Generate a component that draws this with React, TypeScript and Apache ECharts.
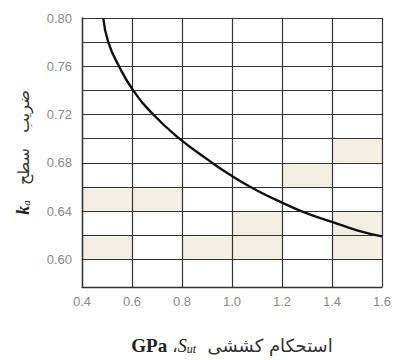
import React, { useEffect, useRef } from "react";
import * as echarts from "echarts";

const xMin = 0.4;
const xMax = 1.6;
const xStep = 0.2;
const yMin = 0.577;
const yMax = 0.8;
const yGridValues = [0.6, 0.62, 0.64, 0.66, 0.68, 0.7, 0.72, 0.74, 0.76, 0.78, 0.8];
const yLabelValues = [0.6, 0.64, 0.68, 0.72, 0.76, 0.8];

const curveX = [0.485, 0.505, 0.548, 0.605, 0.685, 0.79, 0.9, 1.0, 1.1, 1.2, 1.3, 1.4, 1.5, 1.6];
const curveY = [0.8, 0.78, 0.76, 0.74, 0.72, 0.7, 0.683, 0.669, 0.657, 0.647, 0.638, 0.631, 0.624, 0.619];

// shaded cells: [x0, x1, y0, y1]
const shadedCells = [
  [1.4, 1.6, 0.68, 0.7],
  [1.2, 1.4, 0.66, 0.68],
  [0.4, 0.8, 0.64, 0.66],
  [1.0, 1.2, 0.62, 0.64],
  [1.4, 1.6, 0.62, 0.64],
  [0.4, 0.6, 0.6, 0.62],
  [0.8, 1.2, 0.6, 0.62],
  [1.4, 1.6, 0.6, 0.62],
];

export default function App() {
  const ref = useRef<HTMLDivElement>(null);
  useEffect(() => {
    if (!ref.current) return;
    const chart = echarts.init(ref.current, null, { renderer: "svg" });
    const gridColor = "#333333";
    chart.setOption({
      animation: false,
      backgroundColor: "#ffffff",
      grid: { left: 82, right: 13, top: 18, bottom: 63, containLabel: false },
      xAxis: {
        type: "value",
        min: xMin,
        max: xMax,
        interval: xStep,
        z: 3,
        axisLine: { show: true, lineStyle: { color: gridColor, width: 1.4 } },
        axisTick: { show: false },
        splitLine: { show: true, lineStyle: { color: gridColor, width: 1.2 } },
        axisLabel: {
          color: "#8a8a8a",
          fontSize: 13,
          fontFamily: "Liberation Sans",
          margin: 8,
          formatter: (v: number) => v.toFixed(1),
        },
        name: "{en|GPa }{fa|،}{it|S}{sub|ut}{fa|  استحکام کششی}",
        nameLocation: "middle",
        nameGap: 49,
        nameTextStyle: {
          rich: {
            en: { fontFamily: "Liberation Serif", fontWeight: "bold", fontSize: 19, color: "#222" },
            it: { fontFamily: "Liberation Serif", fontStyle: "italic", fontSize: 18, color: "#222" },
            sub: { fontFamily: "Liberation Serif", fontStyle: "italic", fontSize: 12, color: "#222", padding: [6, 0, 0, 0] },
            fa: { fontFamily: "DejaVu Sans", fontSize: 18, color: "#333" },
          },
        },
      },
      yAxis: {
        type: "value",
        min: yMin,
        max: yMax,
        z: 3,
        axisLine: { show: true, lineStyle: { color: gridColor, width: 1.4 } },
        axisTick: { show: false, customValues: yGridValues },
        splitLine: { show: true, lineStyle: { color: gridColor, width: 1.2 } },
        axisLabel: {
          customValues: yLabelValues,
          color: "#8a8a8a",
          fontSize: 13,
          fontFamily: "Liberation Sans",
          margin: 10,
          formatter: (v: number) => v.toFixed(2),
        },
        name: "{it|k}{sub|a}{fa|   ضریب   سطح}",
        nameLocation: "middle",
        nameGap: 50,
        nameRotate: 90,
        nameTextStyle: {
          rich: {
            it: { fontFamily: "Liberation Serif", fontStyle: "italic", fontWeight: "bold", fontSize: 18, color: "#222" },
            sub: { fontFamily: "Liberation Serif", fontStyle: "italic", fontSize: 11, color: "#222", padding: [6, 0, 0, 0] },
            fa: { fontFamily: "DejaVu Sans", fontSize: 16, color: "#333" },
          },
        },
      },
      series: [
        {
          type: "custom",
          z: 1,
          silent: true,
          data: shadedCells,
          encode: { x: [0, 1], y: [2, 3] },
          renderItem: (params: any, api: any) => {
            const p0 = api.coord([api.value(0), api.value(3)]);
            const p1 = api.coord([api.value(1), api.value(2)]);
            return {
              type: "rect",
              shape: { x: p0[0], y: p0[1], width: p1[0] - p0[0], height: p1[1] - p0[1] },
              style: { fill: "#f3eee3" },
            };
          },
        },
        {
          type: "line",
          z: 10,
          smooth: true,
          symbol: "none",
          data: curveX.map((x, i) => [x, curveY[i]]),
          lineStyle: { color: "#111", width: 2.4 },
        },
      ],
    });
    return () => chart.dispose();
  }, []);
  return (
    <div
      ref={ref}
      style={{ position: "absolute", left: 0, top: 0, width: 395, height: 360 }}
    />
  );
}
